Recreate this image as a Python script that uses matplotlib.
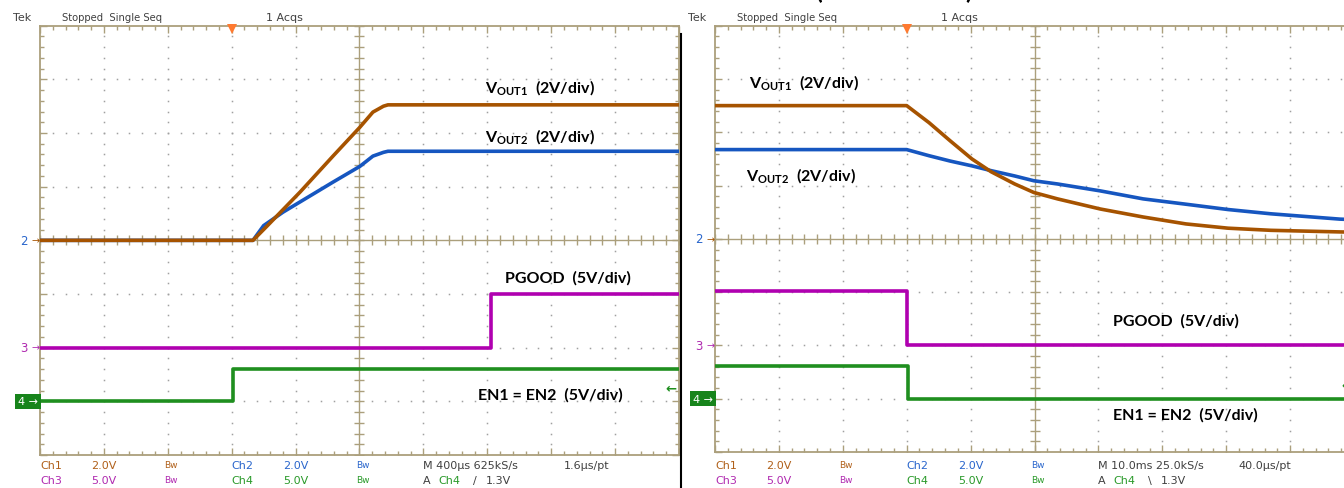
import numpy as np
import matplotlib
matplotlib.use("Agg")
import matplotlib.pyplot as plt
from matplotlib.ticker import MultipleLocator
import matplotlib.transforms as mtransforms

W, H = 1344, 489

# startup capture, time in us (400 us/div), volts
t_up_v1 = [-1200, 133, 221, 428, 634, 803, 884, 950, 978, 2800]
v_up_v1 = [0, 0, 0.53, 1.80, 3.14, 4.22, 4.78, 5.0, 5.05, 5.05]
t_up_v2 = [-1200, 133, 200, 321, 634, 803, 884, 950, 978, 2800]
v_up_v2 = [0, 0, 0.55, 1.05, 2.17, 2.76, 3.14, 3.28, 3.32, 3.32]
t_up_pg = [-1200, 1625, 1625, 2800]
v_up_pg = [0, 0, 5.0, 5.0]
t_up_en = [-1200, 10, 10, 2800]
v_up_en = [0, 0, 3.0, 3.0]

# shutdown capture, time in ms (10 ms/div), volts
t_dn = [-30, 0, 3.5, 6.8, 10.2, 13.2, 16.9, 19.9, 23.6, 30.3, 37.0, 43.7, 50.3, 57.0, 67.8, 70]
v_dn_v1 = [5.0, 5.0, 4.36, 3.68, 3.0, 2.52, 2.06, 1.74, 1.5, 1.12, 0.82, 0.56, 0.40, 0.32, 0.26, 0.25]
v_dn_v2 = [3.35, 3.35, 3.12, 2.92, 2.74, 2.56, 2.36, 2.18, 2.06, 1.80, 1.50, 1.30, 1.10, 0.94, 0.74, 0.72]
t_dn_pg = [-30, 0, 0, 70]
v_dn_pg = [5.1, 5.1, 0, 0]
t_dn_en = [-30, 0.2, 0.2, 70]
v_dn_en = [3.1, 3.1, 0, 0]

# channel settings: volts/div and ground position (div)
vdiv = {"ch1": 2.0, "ch2": 2.0, "ch3": 5.0, "ch4": 5.0}
gnd = {"ch1": 0.0, "ch2": 0.0, "ch3": -2.0, "ch4": -3.0}
trig_level = 1.3

GRID = "#ab9f7c"
DOT = "#a0a0a0"
C1 = "#a65300"
C2 = "#1656c0"
C3 = "#b000b0"
C4 = "#1f8f1f"
T1 = "#b0601a"
T2 = "#2a66cc"
T3 = "#b02ab0"
T4 = "#2a9a2a"
GRAY = "#404040"

plt.rcParams["font.family"] = ["DejaVu Sans"]
plt.rcParams["mathtext.fontset"] = "custom"
plt.rcParams["mathtext.rm"] = "Lato"
plt.rcParams["mathtext.bf"] = "Lato:bold"

fig = plt.figure(figsize=(W / 100, H / 100), dpi=100)
DIVPX = 63.9


def scope(x0, ytop, ybot, tdiv):
    ax = fig.add_axes([x0 / W, 1 - ybot / H, 10 * DIVPX / W, (ybot - ytop) / H])
    ax.set_xlim(-3 * tdiv, 7 * tdiv)
    ax.set_ylim(-4, 4)
    ax.xaxis.set_major_locator(MultipleLocator(tdiv))
    ax.xaxis.set_minor_locator(MultipleLocator(tdiv / 5))
    ax.yaxis.set_major_locator(MultipleLocator(1))
    ax.yaxis.set_minor_locator(MultipleLocator(0.2))
    ax.tick_params(which="both", direction="in", top=True, right=True,
                   labelbottom=False, labelleft=False, color=GRID, width=1)
    ax.tick_params(which="major", length=5)
    ax.tick_params(which="minor", length=3)
    for s in ax.spines.values():
        s.set_color(GRID)
        s.set_linewidth(1.3)
    ys = np.arange(-20, 21) * 0.2
    xs = np.arange(-15, 36) * 0.2 * tdiv
    for k in range(-2, 7):
        if k != 2:
            ax.plot(np.full_like(ys, k * tdiv), ys, ls="none", marker="s",
                    ms=1.1, mew=0, color=DOT, zorder=1)
    for k in [-3, -2, -1, 1, 2, 3]:
        ax.plot(xs, np.full_like(xs, k), ls="none", marker="s",
                ms=1.1, mew=0, color=DOT, zorder=1)
    ax.axvline(2 * tdiv, color=GRID, lw=1, zorder=1)
    ax.axhline(0, color=GRID, lw=1, zorder=1)
    ax.plot(xs, np.zeros_like(xs), ls="none", marker="|", ms=7, mew=1, color=GRID, zorder=1)
    ax.plot(np.full_like(ys, 2 * tdiv), ys, ls="none", marker="_", ms=7, mew=1, color=GRID, zorder=1)
    # trigger position marker
    ax.plot(0, 3.93, marker="v", ms=7, color="#ff7a30", mew=0, clip_on=False, zorder=6)
    return ax


def trace(ax, t, v, ch, color):
    y = gnd[ch] + np.array(v) / vdiv[ch]
    ax.plot(t, y, color=color, lw=2.6, zorder=3)


def markers(ax, tdiv):
    x = -3 * tdiv
    for ch, col, dig in [("ch2", T2, "2"), ("ch3", T3, "3")]:
        tr = mtransforms.offset_copy(ax.transData, fig, x=-12, y=0, units="dots")
        ax.text(x, gnd[ch], dig, transform=tr, ha="right", va="center",
                fontsize=8.5, color=col, clip_on=False)
        tr = mtransforms.offset_copy(ax.transData, fig, x=0, y=0, units="dots")
        ax.text(x, gnd[ch], "\u2192", transform=tr, ha="right", va="center",
                fontsize=7, color=C1 if ch == "ch2" else col, clip_on=False)
    tr = mtransforms.offset_copy(ax.transData, fig, x=-2, y=0, units="dots")
    ax.text(x, gnd["ch4"], "4 \u2192", transform=tr, ha="right", va="center",
            fontsize=8, color="white", clip_on=False,
            bbox=dict(boxstyle="square,pad=0.25", fc="#17841b", ec="none"))
    # trigger level arrow at the right edge
    tr = mtransforms.offset_copy(ax.transData, fig, x=-2, y=0, units="dots")
    ax.text(7 * tdiv, gnd["ch4"] + trig_level / vdiv["ch4"], "\u2190",
            transform=tr, ha="right", va="center", fontsize=9.5, color=C4,
            fontweight="bold", clip_on=False)


def readouts(x0, mtext, ptext, slope):
    row1 = [(0, "Ch1", T1), (0.8, "2.0V", T1), (1.95, "Bw", T1),
            (3.0, "Ch2", T2), (3.8, "2.0V", T2), (4.95, "Bw", T2),
            (6.0, mtext, GRAY), (8.19, ptext, GRAY)]
    row2 = [(0, "Ch3", T3), (0.8, "5.0V", T3), (1.95, "Bw", T3),
            (3.0, "Ch4", T4), (3.8, "5.0V", T4), (4.95, "Bw", T4),
            (6.0, "A", GRAY), (6.24, "Ch4", T4), (6.78, slope, GRAY),
            (6.98, "1.3V", GRAY)]
    for ypx, row in [(466, row1), (481, row2)]:
        for d, s, c in row:
            fs = 6.5 if s == "Bw" else 8
            fig.text((x0 + d * DIVPX) / W, 1 - ypx / H, s, color=c,
                     fontsize=fs, ha="left", va="center")
    fig.text((x0 - 27) / W, 1 - 18 / H, "Tek", fontsize=8, color=GRAY, va="center")
    fig.text((x0 + 22) / W, 1 - 18 / H, "Stopped  Single Seq", fontsize=7.2,
             color=GRAY, va="center")
    fig.text((x0 + 226) / W, 1 - 18 / H, "1 Acqs", fontsize=8, color=GRAY, va="center")


def label(ax, tdiv, xd, yd, s):
    ax.text((xd - 3) * tdiv, yd, s, fontsize=11.5, fontweight="bold",
            family="Lato", ha="left", va="center", color="black", zorder=7,
            clip_on=False)


# left: startup
axL = scope(40, 26.7, 456, 400)
trace(axL, t_up_en, v_up_en, "ch4", C4)
trace(axL, t_up_pg, v_up_pg, "ch3", C3)
trace(axL, t_up_v2, v_up_v2, "ch2", C2)
trace(axL, t_up_v1, v_up_v1, "ch1", C1)
markers(axL, 400)
readouts(40, "M 400\u00b5s 625kS/s", "1.6\u00b5s/pt", "/")
label(axL, 400, 6.96, 2.86, r"V$_{\mathbf{OUT1}}$  (2V/div)")
label(axL, 400, 6.96, 1.94, r"V$_{\mathbf{OUT2}}$  (2V/div)")
label(axL, 400, 7.28, -0.68, "PGOOD  (5V/div)")
label(axL, 400, 6.85, -2.87, "EN1 = EN2  (5V/div)")

# right: shutdown
axR = scope(715, 26.7, 453, 10)
trace(axR, t_dn_en, v_dn_en, "ch4", C4)
trace(axR, t_dn_pg, v_dn_pg, "ch3", C3)
trace(axR, t_dn, v_dn_v2, "ch2", C2)
trace(axR, t_dn, v_dn_v1, "ch1", C1)
markers(axR, 10)
readouts(715, "M 10.0ms 25.0kS/s", "40.0\u00b5s/pt", "\\")
label(axR, 10, 0.53, 2.94, r"V$_{\mathbf{OUT1}}$  (2V/div)")
label(axR, 10, 0.49, 1.19, r"V$_{\mathbf{OUT2}}$  (2V/div)")
label(axR, 10, 6.23, -1.53, "PGOOD  (5V/div)")
label(axR, 10, 6.23, -3.30, "EN1 = EN2  (5V/div)")

# separator between the two screenshots
fig.add_artist(plt.Line2D([680.5 / W, 680.5 / W], [0, 1 - 35 / H],
                          transform=fig.transFigure, color="black", lw=1.5))

# clipped caption above the right screenshot (only the bottoms show)
fig.text(815 / W, 1 + 1 / H, "(", fontsize=18, fontweight="bold", family="Lato",
         va="baseline")
fig.text(965 / W, 1 + 1 / H, ")", fontsize=18, fontweight="bold", family="Lato",
         va="baseline")

fig.savefig("out.png", dpi=100)
